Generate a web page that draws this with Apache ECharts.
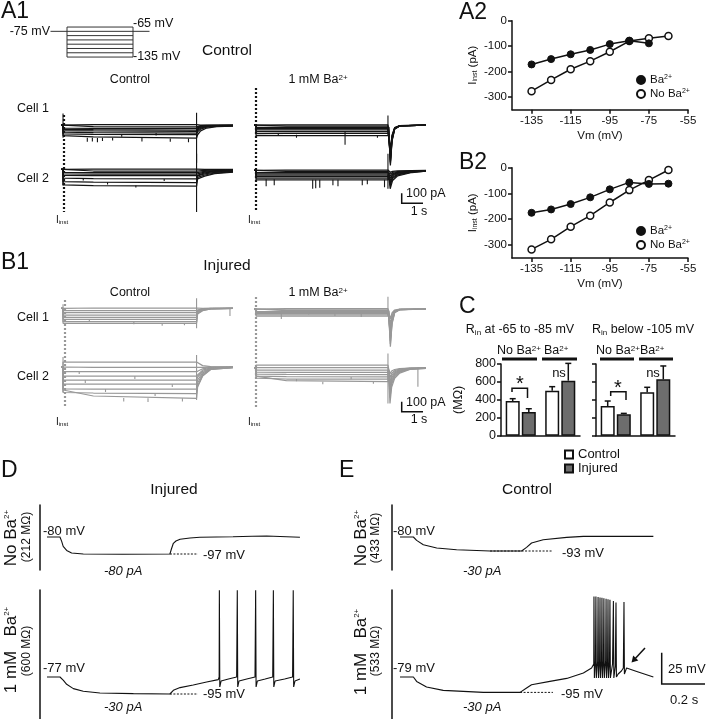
<!DOCTYPE html>
<html>
<head>
<meta charset="utf-8">
<script src="https://cdn.jsdelivr.net/npm/echarts@6.0.0/dist/echarts.min.js"></script>
<style>
html,body{margin:0;padding:0;background:#fff;}
#chart{width:706px;height:719px;}
</style>
</head>
<body>
<div id="chart"></div>
<script>
// ======================= DATA =======================
// A2 / B2 : Iinst (pA) vs Vm (mV)
const ivVm = [-135, -125, -115, -105, -95, -85, -75, -65];
const a2Ba = [-172, -151, -132, -115, -92, -79, -89];
const a2NoBa = [-277, -233, -191, -159, -122, -80, -69, -60];
const b2Ba = [-175, -162, -141, -115, -84, -57, -63, -62];
const b2NoBa = [-317, -278, -229, -186, -135, -87, -48, -9];
const ivXTicks = [-135, -115, -95, -75, -55];
const ivYTicks = [0, -100, -200, -300];

// C : input resistance (MOhm), mean and SEM
const rinGroups = ['No Ba2+', 'Ba2+'];
const rinLowControl = [387, 502];
const rinLowControlSem = [26, 45];
const rinLowInjured = [264, 614];
const rinLowInjuredSem = [37, 193];
const rinHighControl = [331, 484];
const rinHighControlSem = [56, 56];
const rinHighInjured = [238, 629];
const rinHighInjuredSem = [11, 149];
const rinTicks = [0, 200, 400, 600, 800];

// A1 voltage protocol (mV)
const protocolSteps = [-65, -75, -85, -95, -105, -115, -125, -135];
const protocolHolding = -75;

// A1 / B1 current sweeps (pA): [at step onset, at 1.5 s, at step end, tail peak]
const a1CtrlCell1Sweeps = [[5,5,5,0],[-15,-18,-20,-10],[-35,-38,-40,-20],[-50,-55,-60,-30],[-65,-70,-75,-45],[-85,-90,-95,-60],[-105,-110,-115,-80],[-125,-140,-155,-115]];
const a1CtrlCell1Tail = {t:[6.65,6.8,7.1,7.6,8.4], f:[1,0.6,0.3,0.15,0.1]};
const a1CtrlCell1Caps = [[0,140,-150],[6.6,150,-450]];
const a1CtrlCell1Spikes = [[1.2,-150,-200],[1.45,-152,-195],[1.7,-155,-205],[1.95,-150,-190],[2.45,-150,-185],[2.9,-110,-140],[3.9,-155,-195],[4.6,-95,-125],[5.3,-160,-200],[6.2,-160,-205]];

const a1BaCell1Sweeps = [[3,3,3,-300],[-12,-12,-12,-330],[-27,-27,-27,-360],[-42,-42,-42,-390],[-57,-57,-57,-420],[-77,-77,-77,-440],[-102,-100,-100,-460],[-127,-125,-125,-484]];
const a1BaCell1Tail = {t:[6.55,6.64,6.72,6.85,7.1,8.4], f:[0.05,1,0.4,0.1,0.02,0]};
const a1BaCell1Caps = [[6.52,116,-30]];
const a1BaCell1Spikes = [[1.1,-100,-130],[2.0,-115,-150],[4.4,-80,-235],[6.0,-120,-150]];

const a1CtrlCell2Sweeps = [[3,3,3,0],[-15,-16,-17,-15],[-30,-32,-33,-28],[-45,-47,-48,-40],[-60,-62,-63,-50],[-88,-92,-95,-65],[-122,-128,-132,-80],[-155,-162,-168,-95]];
const a1CtrlCell2Tail = {t:[6.65,7.0,7.5,8.4], f:[1,0.7,0.45,0.3]};
const a1CtrlCell2Caps = [[0,10,-160],[6.6,156,-427]];
const a1CtrlCell2Spikes = [[1.0,-92,-110],[2.2,-128,-150],[3.6,-162,-180],[5.0,-95,-115]];

const a1BaCell2Sweeps = [[3,3,3,-20],[-10,-10,-10,-40],[-22,-22,-22,-60],[-35,-35,-35,-80],[-48,-48,-48,-100],[-62,-62,-62,-125],[-78,-78,-78,-150],[-95,-95,-95,-184]];
const a1BaCell2Tail = {t:[6.56,6.63,6.75,7.0,7.7,8.4], f:[0.3,1,0.55,0.3,0.12,0.05]};
const a1BaCell2Caps = [[6.52,166,-184]];
const a1BaCell2Spikes = [[0.5,-90,-160],[0.9,-90,-150],[2.8,-95,-185],[2.95,-95,-180],[3.15,-95,-175],[3.8,-95,-150],[4.05,-95,-160],[5.25,-95,-150],[5.5,-95,-140],[6.35,-95,-170]];

const b1CtrlCell1Sweeps = [[3,3,3,0],[-24,-24,-24,-10],[-44,-44,-44,-18],[-67,-67,-67,-26],[-90,-90,-90,-34],[-110,-110,-110,-42],[-134,-134,-134,-50],[-150,-150,-150,-58]];
const b1CtrlCell1Tail = {t:[6.65,6.9,7.3,8.4], f:[1,0.4,0.1,0.02]};
const b1CtrlCell1Caps = [[0,40,-20],[6.6,100,-200]];
const b1CtrlCell1Spikes = [[1.3,-110,-130],[3.5,-134,-160],[4.9,-150,-175],[6.0,-150,-170],[8.25,0,-77]];

const b1CtrlCell2Sweeps = [[50,50,50,30],[-3,-3,-3,-10],[-47,-47,-47,-40],[-90,-90,-90,-70],[-130,-130,-130,-100],[-170,-171,-172,-130],[-218,-220,-222,-160],[-255,-260,-265,-190],[-230,-290,-313,-200]];
const b1CtrlCell2Tail = {t:[6.65,6.9,7.3,8.4], f:[1,0.45,0.12,0.03]};
const b1CtrlCell2Caps = [[0,100,-250],[6.6,120,-330]];
const b1CtrlCell2Spikes = [[0.8,-47,-70],[1.1,-130,-160],[2.1,-220,-250],[3.0,-310,-345],[3.55,-90,-120],[4.2,-312,-350],[4.55,-265,-290],[5.4,-172,-200],[5.9,-313,-345]];

const b1BaCell1Sweeps = [[3,3,3,-100],[-8,-8,-8,-150],[-17,-17,-17,-200],[-27,-27,-27,-250],[-37,-37,-37,-290],[-47,-47,-47,-320],[-58,-58,-58,-350],[-70,-70,-70,-377]];
const b1BaCell1Tail = {t:[6.55,6.64,6.72,6.85,7.1,8.4], f:[0.05,1,0.4,0.1,0.02,0]};
const b1BaCell1Caps = [[6.52,123,-20]];
const b1BaCell1Spikes = [[1.25,-40,-100],[2.6,-30,-55],[3.9,-40,-70],[5.2,-50,-80]];

const b1BaCell2Sweeps = [[27,27,27,-60],[0,0,0,-100],[-23,-23,-23,-140],[-45,-47,-47,-180],[-65,-67,-68,-220],[-85,-90,-92,-260],[-105,-113,-115,-300],[-85,-130,-140,-357]];
const b1BaCell2Tail = {t:[6.55,6.62,6.7,6.85,7.1,7.6,8.4], f:[0.1,1,0.55,0.3,0.15,0.05,0.02]};
const b1BaCell2Caps = [[6.52,143,-357]];
const b1BaCell2Spikes = [[2.0,-113,-135],[3.3,-140,-165],[4.7,-92,-115],[5.8,-140,-160],[8.0,0,-190]];

const stepEndCtrl = 6.6, stepEndBa = 6.52;

// D / E : membrane potential (mV) vs time (s)
const dNoBaTrace = [[0,-80],[0.06,-80],[0.068,-84.4],[0.075,-89.4],[0.091,-93.4],[0.114,-96],[0.168,-97],[0.35,-97.3],[0.569,-97],[0.576,-92],[0.585,-86.3],[0.597,-84],[0.616,-82.3],[0.662,-81],[0.708,-80.3],[0.861,-79.7],[0.95,-79.2],[1.017,-79],[1.079,-79.5],[1.171,-80.3]];
const dBaTrace = [[0,-77],[0.06,-77],[0.076,-80.3],[0.091,-84.3],[0.122,-88.6],[0.168,-91.3],[0.245,-93],[0.4,-93.6],[0.569,-94],[0.585,-90.3],[0.616,-87.6],[0.677,-85],[0.739,-82],[0.793,-79.6],[0.797,-77],[0.798,9.7],[0.8,-87],[0.806,-81],[0.84,-79],[0.878,-77],[0.881,9.7],[0.883,-87],[0.889,-81],[0.925,-79],[0.963,-77],[0.966,9.7],[0.968,-87],[0.974,-81],[1.01,-79],[1.045,-77],[1.048,9.7],[1.05,-87],[1.056,-81],[1.1,-79],[1.137,-77],[1.14,9.7],[1.142,-87],[1.148,-81],[1.171,-79]];
const eNoBaTrace = [[0,-80],[0.062,-80],[0.077,-83.4],[0.108,-87.7],[0.17,-91],[0.262,-92.7],[0.417,-94],[0.563,-94],[0.586,-90.4],[0.609,-86],[0.663,-82.7],[0.772,-80.4],[0.849,-79.4],[1.0,-79.2],[1.173,-79.4]];
const eBaTrace = [[0,-79],[0.062,-79],[0.077,-83.4],[0.123,-89],[0.2,-92.4],[0.386,-94.4],[0.556,-94.4],[0.586,-90],[0.609,-86.7],[0.694,-83.4],[0.772,-80.4],[0.849,-75],[0.887,-70],[0.897,-66],
 [0.898,1.6],[0.9,-80],[0.905,-63],[0.907,1.4],[0.909,-80],[0.915,-63],[0.917,1.0],[0.919,-80],[0.924,-63],
 [0.926,0.6],[0.928,-80],[0.933,-63],[0.935,0.2],[0.937,-80],[0.942,-63],[0.944,-0.3],[0.946,-80],[0.952,-63],
 [0.954,-0.8],[0.956,-80],[0.961,-63],[0.963,-1.3],[0.965,-80],[0.97,-64],[0.972,-1.8],[0.974,-80],[0.984,-66],
 [0.988,-3],[0.99,-80],[0.997,-68],[1.0,-4.5],[1.002,-79],[1.01,-76],[1.025,-73],[1.034,-70],
 [1.037,-4],[1.039,-76],[1.049,-70],[1.096,-73.4],[1.173,-79]];
const dNoBaRest = [[0.569,-97],[0.699,-97]];
const dBaRest = [[0.569,-94],[0.699,-94]];
const eNoBaRest = [[0.417,-94],[0.708,-94]];
const eBaRest = [[0.556,-94.4],[0.708,-94.4]];

// ======================= LAYOUT / STYLE =======================
const FONT = 'Liberation Sans, Arial, Helvetica, sans-serif';
const BLACK = '#111';
const A1C = '#141414', B1C = '#989898';
const TRACE_W = 1.25;
const L = {
  trace: {w:172, tmin:-0.1, tmax:8.4, imin:-1500, imax:1500, h:300},
  a1c1:{x:61,y0:100.3}, a1b1:{x:254,y0:100.3}, a1c2:{x:61,y0:169.4}, a1b2:{x:254,y0:170.3},
  b1c1:{x:61,y0:308.3}, b1b1:{x:254,y0:309}, b1c2:{x:61,y0:367}, b1b2:{x:254,y0:367.7},
  prot:{left:50.5, top:24.9, width:99, height:34.3},
  a2:{left:512, top:20.7, width:176, height:89},
  b2:{left:512, top:167.7, width:176, height:90.2},
  c1:{left:501, top:364, width:79, height:71.7},
  c2:{left:596, top:364, width:79, height:71.7},
  dTop:{left:40, top:505, width:264, height:65, tmin:-0.0324, vmin:-113, vmax:-48},
  dBot:{left:40, top:590, width:264, height:129, tmin:-0.0324, vmin:-119, vmax:10},
  eTop:{left:391.7, top:505, width:264, height:65, tmin:-0.0384, vmin:-113, vmax:-48},
  eBot:{left:391.7, top:590, width:264, height:129, tmin:-0.0384, vmin:-121, vmax:8}
};
const BAR_W = 14, BAR_GAP = 0.15;

const grids = [], xAxes = [], yAxes = [], series = [];
function addGrid(g, x, y) {
  grids.push(Object.assign({containLabel:false}, g));
  const i = grids.length - 1;
  xAxes.push(Object.assign({gridIndex:i}, x));
  yAxes.push(Object.assign({gridIndex:i}, y));
  return i;
}
const hiddenX = (min,max)=>({type:'value', show:false, min, max});
const hiddenY = (min,max)=>({type:'value', show:false, min, max});

// ---------- protocol ----------
const gp = addGrid(L.prot, hiddenX(-0.25,1.25), hiddenY(-140,-60));
const protStyle = {color:'#333', width:1};
series.push({type:'line', xAxisIndex:gp, yAxisIndex:gp, data:[[-0.25,protocolHolding],[0,protocolHolding]], symbol:'none', lineStyle:protStyle, silent:true});
series.push({type:'line', xAxisIndex:gp, yAxisIndex:gp, data:[[1,protocolHolding],[1.25,protocolHolding]], symbol:'none', lineStyle:protStyle, silent:true});
protocolSteps.forEach(v=>series.push({type:'line', xAxisIndex:gp, yAxisIndex:gp, data:[[0,v],[1,v]], symbol:'none', lineStyle:protStyle, silent:true}));
const pTop = protocolSteps[0], pBot = protocolSteps[protocolSteps.length-1];
series.push({type:'line', xAxisIndex:gp, yAxisIndex:gp, data:[[0,pTop],[0,pBot]], symbol:'none', lineStyle:protStyle, silent:true});
series.push({type:'line', xAxisIndex:gp, yAxisIndex:gp, data:[[1,pTop],[1,pBot]], symbol:'none', lineStyle:protStyle, silent:true});

// ---------- current traces ----------
function traceGrid(p) {
  const T = L.trace;
  return addGrid({left:p.x, top:p.y0 - T.h/2, width:T.w, height:T.h}, hiddenX(T.tmin,T.tmax), hiddenY(T.imin,T.imax));
}
function sweepPoints(sw, off, tail) {
  const [i0, im, i1, dip] = sw;
  const pts = [[-0.1,0],[0,0],[0,i0],[1.5,im],[off,i1]];
  tail.t.forEach((t,k)=>pts.push([t, dip*tail.f[k]]));
  return pts;
}
function addTracePanel(pos, sweeps, off, tail, caps, spikes, color) {
  const gi = traceGrid(pos);
  sweeps.forEach(sw=>series.push({type:'line', xAxisIndex:gi, yAxisIndex:gi, data:sweepPoints(sw,off,tail), symbol:'none', lineStyle:{color, width:TRACE_W}, silent:true, z:2}));
  const seg = [];
  caps.forEach(c=>{ seg.push([c[0],c[1]],[c[0],c[2]],[c[0],'-']); });
  spikes.forEach(s=>{ seg.push([s[0],s[1]],[s[0],s[2]],[s[0],'-']); });
  series.push({type:'line', xAxisIndex:gi, yAxisIndex:gi, data:seg, symbol:'none', connectNulls:false, lineStyle:{color, width:1.1}, silent:true, z:3});
}
addTracePanel(L.a1c1, a1CtrlCell1Sweeps, stepEndCtrl, a1CtrlCell1Tail, a1CtrlCell1Caps, a1CtrlCell1Spikes, A1C);
addTracePanel(L.a1b1, a1BaCell1Sweeps, stepEndBa, a1BaCell1Tail, a1BaCell1Caps, a1BaCell1Spikes, A1C);
addTracePanel(L.a1c2, a1CtrlCell2Sweeps, stepEndCtrl, a1CtrlCell2Tail, a1CtrlCell2Caps, a1CtrlCell2Spikes, A1C);
addTracePanel(L.a1b2, a1BaCell2Sweeps, stepEndBa, a1BaCell2Tail, a1BaCell2Caps, a1BaCell2Spikes, A1C);
addTracePanel(L.b1c1, b1CtrlCell1Sweeps, stepEndCtrl, b1CtrlCell1Tail, b1CtrlCell1Caps, b1CtrlCell1Spikes, B1C);
addTracePanel(L.b1b1, b1BaCell1Sweeps, stepEndBa, b1BaCell1Tail, b1BaCell1Caps, b1BaCell1Spikes, B1C);
addTracePanel(L.b1c2, b1CtrlCell2Sweeps, stepEndCtrl, b1CtrlCell2Tail, b1CtrlCell2Caps, b1CtrlCell2Spikes, B1C);
addTracePanel(L.b1b2, b1BaCell2Sweeps, stepEndBa, b1BaCell2Tail, b1BaCell2Caps, b1BaCell2Spikes, B1C);

// ---------- I-V plots ----------
const SUP = {sup:{fontSize:7, fontFamily:FONT, verticalAlign:'top', fill:BLACK, color:BLACK}, sub:{fontSize:7, fontFamily:FONT, verticalAlign:'bottom', fill:BLACK, color:BLACK}};
function ivAxes() {
  const axLine = {onZero:false, lineStyle:{color:BLACK, width:1.5}};
  const tick = {show:true, length:4, lineStyle:{color:BLACK, width:1.5}};
  return [
    {type:'value', min:-145, max:-55, axisLine:axLine, axisTick:Object.assign({customValues:ivXTicks}, tick),
     axisLabel:{customValues:ivXTicks, fontSize:11.5, color:BLACK, fontFamily:FONT, margin:5}, splitLine:{show:false},
     name:'Vm (mV)', nameLocation:'middle', nameGap:20, nameTextStyle:{fontSize:11.5, color:BLACK, fontFamily:FONT}},
    {type:'value', min:-350, max:0, axisLine:axLine, axisTick:Object.assign({customValues:ivYTicks}, tick),
     axisLabel:{customValues:ivYTicks, fontSize:11.5, color:BLACK, fontFamily:FONT, margin:5}, splitLine:{show:false},
     name:'I{sub|inst} (pA)', nameLocation:'middle', nameRotate:90, nameGap:33,
     nameTextStyle:{fontSize:11.5, color:BLACK, fontFamily:FONT, rich:SUP}}
  ];
}
function addIV(pos, ba, noBa) {
  const [xa, ya] = ivAxes();
  const gi = addGrid(pos, xa, ya);
  series.push({name:'No Ba2+', type:'line', xAxisIndex:gi, yAxisIndex:gi, data:noBa.map((v,i)=>[ivVm[i],v]),
    symbol:'circle', symbolSize:7, lineStyle:{color:BLACK, width:1.5}, itemStyle:{color:'#fff', borderColor:BLACK, borderWidth:1.5}, z:3});
  series.push({name:'Ba2+', type:'line', xAxisIndex:gi, yAxisIndex:gi, data:ba.map((v,i)=>[ivVm[i],v]),
    symbol:'circle', symbolSize:7, lineStyle:{color:BLACK, width:1.5}, itemStyle:{color:BLACK, borderColor:BLACK, borderWidth:1}, z:4});
}
addIV(L.a2, a2Ba, a2NoBa);
addIV(L.b2, b2Ba, b2NoBa);

// ---------- C bars ----------
function addBars(pos, ctrl, ctrlSem, inj, injSem, showLabels) {
  const gi = addGrid(pos,
    {type:'category', data:rinGroups, axisLine:{lineStyle:{color:BLACK, width:1.5}}, axisTick:{show:false}, axisLabel:{show:false}},
    {type:'value', min:0, max:800, interval:200, axisLine:{show:true, lineStyle:{color:BLACK, width:1.5}},
     axisTick:{show:true, length:4, lineStyle:{color:BLACK, width:1.5}},
     axisLabel:{show:showLabels, fontSize:12.5, color:BLACK, fontFamily:FONT, margin:5}, splitLine:{show:false},
     name: showLabels ? '(MΩ)' : '', nameLocation:'middle', nameRotate:90, nameGap:36,
     nameTextStyle:{fontSize:12.5, color:BLACK, fontFamily:FONT}});
  series.push({name:'Control', type:'bar', xAxisIndex:gi, yAxisIndex:gi, data:ctrl, barWidth:BAR_W, barGap:(BAR_GAP*100)+'%',
    itemStyle:{color:'#fff', borderColor:BLACK, borderWidth:1.5}, silent:true});
  series.push({name:'Injured', type:'bar', xAxisIndex:gi, yAxisIndex:gi, data:inj, barWidth:BAR_W,
    itemStyle:{color:'#6d6d6d', borderColor:BLACK, borderWidth:1.5}, silent:true});
  const half = (BAR_W + BAR_W*BAR_GAP)/2;
  const errData = [];
  ctrl.forEach((v,i)=>errData.push([i, v, ctrlSem[i], -1]));
  inj.forEach((v,i)=>errData.push([i, v, injSem[i], 1]));
  series.push({type:'custom', xAxisIndex:gi, yAxisIndex:gi, data:errData, silent:true, z:5,
    renderItem:(params, api)=>{
      const c = api.value(0), v = api.value(1), e = api.value(2), s = api.value(3);
      const p0 = api.coord([c, v]); const p1 = api.coord([c, v+e]);
      const x = p0[0] + s*half;
      return {type:'group', children:[
        {type:'line', shape:{x1:x, y1:p0[1], x2:x, y2:p1[1]}, style:{stroke:BLACK, lineWidth:1.5}},
        {type:'line', shape:{x1:x-3, y1:p1[1], x2:x+3, y2:p1[1]}, style:{stroke:BLACK, lineWidth:1.5}}
      ]};
    }});
}
addBars(L.c1, rinLowControl, rinLowControlSem, rinLowInjured, rinLowInjuredSem, true);
addBars(L.c2, rinHighControl, rinHighControlSem, rinHighInjured, rinHighInjuredSem, false);

// ---------- D / E voltage traces ----------
function addVm(pos, trace, rest) {
  const gi = addGrid({left:pos.left, top:pos.top, width:pos.width, height:pos.height},
    {type:'value', show:false, min:pos.tmin, max:pos.tmin + pos.width/216},
    {type:'value', min:pos.vmin, max:pos.vmax, axisLine:{show:true, onZero:false, lineStyle:{color:BLACK, width:1.5}},
     axisTick:{show:false}, axisLabel:{show:false}, splitLine:{show:false}});
  series.push({type:'line', xAxisIndex:gi, yAxisIndex:gi, data:trace, symbol:'none', lineStyle:{color:BLACK, width:1.1}, silent:true});
  series.push({type:'line', xAxisIndex:gi, yAxisIndex:gi, data:rest, symbol:'none', lineStyle:{color:BLACK, width:1, type:[2,1.5]}, silent:true});
}
addVm(L.dTop, dNoBaTrace, dNoBaRest);
addVm(L.dBot, dBaTrace, dBaRest);
addVm(L.eTop, eNoBaTrace, eNoBaRest);
addVm(L.eBot, eBaTrace, eBaRest);

// ---------- annotations ----------
const G = [];
function txt(x, y, text, o) {
  o = o || {};
  G.push({type:'text', x, y, rotation:o.rot||0, silent:true, z:10,
    style:{text, fontSize:o.size||12.5, fontFamily:FONT, fontStyle:o.italic?'italic':'normal', fontWeight:o.bold?'bold':'normal',
      fill:o.color||BLACK, align:o.align||'left', verticalAlign:'middle', rich:o.rich||SUP}});
}
function line(x1,y1,x2,y2,o) {
  o = o || {};
  G.push({type:'line', silent:true, z:10, shape:{x1,y1,x2,y2}, style:{stroke:o.color||BLACK, lineWidth:o.w||1.5, lineDash:o.dash||null}});
}
function poly(points, o) {
  o = o || {};
  G.push({type:'polyline', silent:true, z:10, shape:{points}, style:{stroke:o.color||BLACK, lineWidth:o.w||1.5, fill:null}});
}
const SUP2 = {sup:{fontSize:8, fontFamily:FONT, verticalAlign:'top', fill:BLACK}, sub:{fontSize:8, fontFamily:FONT, verticalAlign:'bottom', fill:BLACK}};
const SUPI = {sub:{fontSize:6, fontFamily:FONT, verticalAlign:'bottom', fill:BLACK}};

// panel letters
txt(1, 12, 'A1', {size:23}); txt(459, 13, 'A2', {size:23}); txt(1, 263, 'B1', {size:23}); txt(459, 163, 'B2', {size:23});
txt(459, 307, 'C', {size:23}); txt(1, 471, 'D', {size:23}); txt(339, 471, 'E', {size:23});
// A1 / B1 headers
txt(227, 51, 'Control', {size:15.5, align:'center'});
txt(227, 266, 'Injured', {size:15.5, align:'center'});
txt(130, 80, 'Control', {align:'center'}); txt(318, 80, '1 mM Ba{sup|2+}', {align:'center', rich:SUP2});
txt(130, 293, 'Control', {align:'center'}); txt(318, 293, '1 mM Ba{sup|2+}', {align:'center', rich:SUP2});
txt(17, 109, 'Cell 1'); txt(17, 179, 'Cell 2'); txt(17, 318, 'Cell 1'); txt(17, 377, 'Cell 2');
// protocol labels
txt(50, 32, '-75 mV', {align:'right'}); txt(133, 24, '-65 mV'); txt(133, 57, '-135 mV');
// Iinst markers
line(64, 115, 64, 212, {color:A1C, w:2.2, dash:[2,2]});
line(256, 88, 256, 212, {color:A1C, w:2.2, dash:[2,2]});
line(65, 300, 65, 407, {color:B1C, w:2.2, dash:[2,2]});
line(256, 297, 256, 408, {color:B1C, w:2.2, dash:[2,2]});
txt(56, 220, 'I{sub|inst}', {size:10, rich:SUPI}); txt(248, 220, 'I{sub|inst}', {size:10, rich:SUPI});
txt(56, 422, 'I{sub|inst}', {size:10, rich:SUPI}); txt(248, 422, 'I{sub|inst}', {size:10, rich:SUPI});
// scale bars A1/B1
poly([[401.7,193.3],[401.7,203.3],[423,203.3]]); txt(406, 194, '100 pA'); txt(419, 212, '1 s', {align:'center'});
poly([[401.7,401.7],[401.7,411.7],[423,411.7]]); txt(406, 403, '100 pA'); txt(419, 420, '1 s', {align:'center'});
// C annotations
txt(520, 330, 'R{sub|in} at -65 to -85 mV', {align:'center', size:12.5, rich:SUP2});
txt(643, 330, 'R{sub|in} below -105 mV', {align:'center', size:12.5, rich:SUP2});
line(502, 359, 537, 359, {w:3}); line(542, 359, 577, 359, {w:3});
line(600, 359, 634, 359, {w:3}); line(639, 359, 673, 359, {w:3});
txt(519, 351, 'No Ba{sup|2+}', {align:'center', size:12.5, rich:SUP2}); txt(544, 351, 'Ba{sup|2+}', {size:12.5, rich:SUP2});
txt(618, 351, 'No Ba{sup|2+}', {align:'center', size:12.5, rich:SUP2}); txt(640, 351, 'Ba{sup|2+}', {size:12.5, rich:SUP2});
poly([[512,392],[512,388.3],[527.5,388.3],[527.5,398]]);
poly([[610.7,396],[610.7,391.7],[626,391.7],[626,400]]);
txt(520, 384, '*', {align:'center', size:20}); txt(618, 388, '*', {align:'center', size:20});
txt(559, 373, 'ns', {align:'center', size:13}); txt(653, 373, 'ns', {align:'center', size:13});
// D / E labels
txt(174, 490, 'Injured', {size:15.5, align:'center'}); txt(527, 490, 'Control', {size:15.5, align:'center'});
const R90 = Math.PI/2;
txt(11, 538, 'No Ba{sup|2+}', {rot:R90, align:'center', size:17, rich:SUP2});
txt(27, 537, '(212 MΩ)', {rot:R90, align:'center', size:12});
txt(11, 650, '1 mM   Ba{sup|2+}', {rot:R90, align:'center', size:17, rich:SUP2});
txt(27, 651, '(600 MΩ)', {rot:R90, align:'center', size:12});
txt(361, 538, 'No Ba{sup|2+}', {rot:R90, align:'center', size:17, rich:SUP2});
txt(376, 538, '(433 MΩ)', {rot:R90, align:'center', size:12});
txt(361, 652, '1 mM   Ba{sup|2+}', {rot:R90, align:'center', size:17, rich:SUP2});
txt(376, 651, '(533 MΩ)', {rot:R90, align:'center', size:12});
txt(43, 531, '-80 mV', {size:13}); txt(203, 555, '-97 mV', {size:13}); txt(104, 571, '-80 pA', {size:13, italic:true});
txt(43, 668, '-77 mV', {size:13}); txt(203, 694, '-95 mV', {size:13}); txt(104, 707, '-30 pA', {size:13, italic:true});
txt(393, 531, '-80 mV', {size:13}); txt(562, 553, '-93 mV', {size:13}); txt(463, 571, '-30 pA', {size:13, italic:true});
txt(393, 668, '-79 mV', {size:13}); txt(561, 694, '-95 mV', {size:13}); txt(463, 707, '-30 pA', {size:13, italic:true});
poly([[661.7,652.7],[661.7,684],[705,684]]);
txt(668, 669, '25 mV', {size:13}); txt(670, 700, '0.2 s', {size:13});
// arrow
line(645, 648, 635.5, 658.2, {w:1.5});
G.push({type:'polygon', silent:true, z:10, shape:{points:[[631.5,662.6],[638.3,660.4],[633.2,655.6]]}, style:{fill:BLACK}});

// ======================= OPTION =======================
const supFmt = n => n.replace('2+', '{sup|2+}');
const legendText = {fontSize:11.5, color:BLACK, fontFamily:FONT, rich:{sup:{fontSize:7, fontFamily:FONT, verticalAlign:'top', color:BLACK}}};
const option = {
  animation:false,
  backgroundColor:'#fff',
  grid:grids, xAxis:xAxes, yAxis:yAxes, series,
  legend:[
    {data:['Ba2+','No Ba2+'], left:631, top:69, orient:'vertical', icon:'circle', itemWidth:8, itemHeight:8, itemGap:2, selectedMode:false, textStyle:legendText, formatter:supFmt},
    {data:['Ba2+','No Ba2+'], left:631, top:220, orient:'vertical', icon:'circle', itemWidth:8, itemHeight:8, itemGap:2, selectedMode:false, textStyle:legendText, formatter:supFmt},
    {data:['Control','Injured'], left:559, top:443, orient:'vertical', icon:'rect', itemWidth:8, itemHeight:8, itemGap:1, selectedMode:false,
     textStyle:{fontSize:13, color:BLACK, fontFamily:FONT}}
  ],
  graphic:{elements:G}
};
const chart = echarts.init(document.getElementById('chart'), null, {renderer:'canvas'});
chart.setOption(option);
</script>
</body>
</html>
